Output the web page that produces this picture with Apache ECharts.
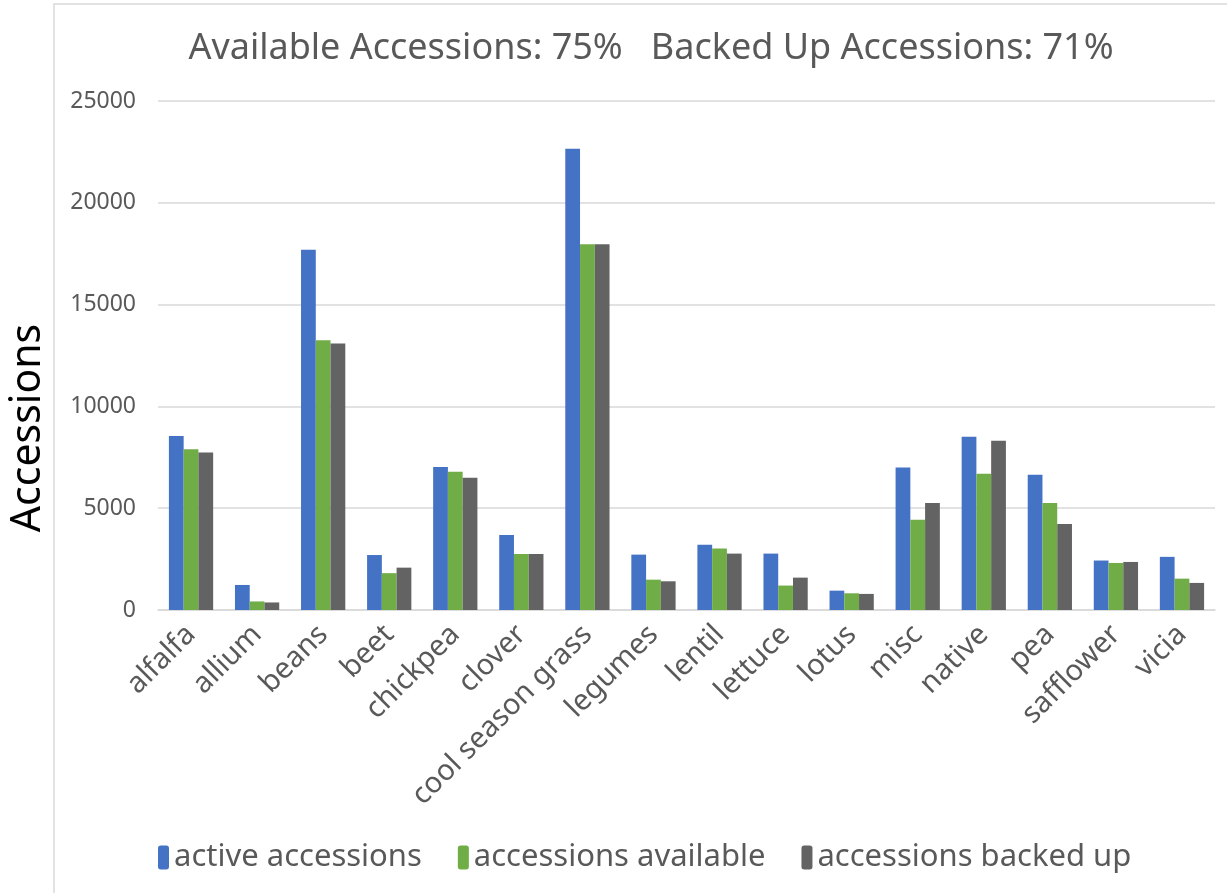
<!DOCTYPE html>
<html>
<head>
<meta charset="utf-8">
<script src="https://cdn.jsdelivr.net/npm/echarts@6/dist/echarts.min.js"></script>
<style>
  html, body { margin: 0; padding: 0; background: #fff; }
  #chart { width: 1227px; height: 893px; }
</style>
</head>
<body>
<div id="chart"></div>
<script>
// crop names along the x axis
var categories = ['alfalfa', 'allium', 'beans', 'beet', 'chickpea', 'clover', 'cool season grass',
    'legumes', 'lentil', 'lettuce', 'lotus', 'misc', 'native', 'pea', 'safflower', 'vicia'];

var activeAccessions = [8550, 1230, 17700, 2700, 7020, 3680, 22650, 2720, 3200, 2770, 950, 7000, 8510, 6640, 2430, 2610];
var accessionsAvailable = [7900, 420, 13250, 1810, 6790, 2750, 17960, 1490, 3020, 1200, 820, 4430, 6690, 5250, 2310, 1540];
var accessionsBackedUp = [7730, 370, 13090, 2080, 6490, 2750, 17960, 1410, 2770, 1590, 790, 5250, 8310, 4230, 2360, 1330];

var yTicks = [0, 5000, 10000, 15000, 20000, 25000];

var font = 'Noto Sans, sans-serif';
var chart = echarts.init(document.getElementById('chart'));

var option = {
    animation: false,
    title: {
        text: 'Available Accessions: 75%   Backed Up Accessions: 71%',
        left: 646,
        textAlign: 'center',
        top: 26,
        textStyle: { fontFamily: font, fontSize: 36, fontWeight: 'normal', color: '#595959' }
    },
    legend: {
        bottom: 15,
        left: 153,
        itemWidth: 11,
        itemHeight: 24,
        itemGap: 36,
        textStyle: { fontFamily: font, fontSize: 31, color: '#595959' },
        data: ['active accessions', 'accessions available', 'accessions backed up']
    },
    graphic: [{
        type: 'rect',
        shape: { x: 54, y: 4, width: 1200, height: 1000 },
        style: { fill: 'none', stroke: '#d9d9d9', lineWidth: 1.5 },
        silent: true,
        z: -1
    }, {
        type: 'text',
        x: 28,
        y: 428,
        rotation: Math.PI / 2,
        style: {
            text: 'Accessions',
            fontFamily: font,
            fontSize: 41,
            fill: '#000',
            align: 'center',
            verticalAlign: 'middle'
        }
    }],
    grid: { left: 158, right: 12, top: 101, bottom: 283 },
    xAxis: {
        type: 'category',
        data: categories,
        axisLine: { lineStyle: { color: '#d9d9d9', width: 1.5 } },
        axisTick: { show: false },
        axisLabel: {
            rotate: 45,
            interval: 0,
            margin: 20,
            fontFamily: font,
            fontSize: 29,
            color: '#595959'
        }
    },
    yAxis: {
        type: 'value',
        min: yTicks[0],
        max: yTicks[yTicks.length - 1],
        interval: 5000,
        axisLine: { show: false },
        axisTick: { show: false },
        axisLabel: {
            fontFamily: font,
            fontSize: 23,
            color: '#595959',
            margin: 22,
            formatter: function (v) { return String(v); }
        },
        splitLine: { lineStyle: { color: '#d9d9d9', width: 1.5 } }
    },
    series: [
        {
            name: 'active accessions',
            type: 'bar',
            data: activeAccessions,
            itemStyle: { color: '#4472c4' },
            barGap: '0%',
            barCategoryGap: '33%'
        },
        {
            name: 'accessions available',
            type: 'bar',
            data: accessionsAvailable,
            itemStyle: { color: '#70ad47' }
        },
        {
            name: 'accessions backed up',
            type: 'bar',
            data: accessionsBackedUp,
            itemStyle: { color: '#636363' }
        }
    ]
};

chart.setOption(option);
</script>
</body>
</html>
